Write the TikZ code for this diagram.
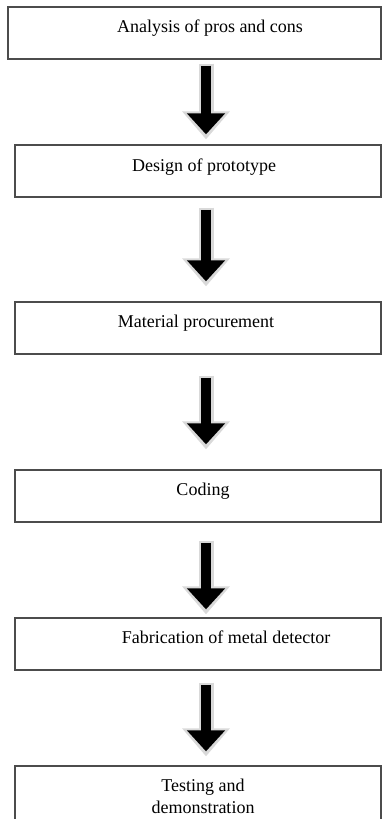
\documentclass[tikz,border=0pt]{standalone}
\usepackage{fontspec}
\setmainfont{Liberation Serif}
\usetikzlibrary{arrows.meta}

\tikzset{
	stepbox/.style={draw=black!70, line width=1.3pt, minimum height=52pt, inner sep=0pt},
	steptext/.style={font=\fontsize{18}{22}\selectfont, align=center, anchor=base},
	boltgray/.style={draw=black!15, line width=15pt, -{Triangle[width=46pt,length=28pt]}},
	boltblack/.style={draw=black, line width=10pt, -{Triangle[width=37pt,length=21pt]}}
}

\begin{document}
\begin{tikzpicture}[x=1pt,y=-1pt]
	\useasboundingbox (0,0) rectangle (383,819);
	\coordinate (ax) at (206,0);

	\foreach \n/\x/\y/\w/\h/\dx/\dy/\txt in {
		b1/194.5/33/373/52/15.5/-26/{Analysis of pros and cons},
		b2/198/171/366/52/6/-27/{Design of prototype},
		b3/198/328/366/52/-2/-26/{Material procurement},
		b4/198/496/366/52/5/-26/{Coding},
		b5/198/644/366/52/28/-26/{Fabrication of metal detector},
		b6/198/801/366/70/5/-48/{Testing and\\demonstration}} {
		\node[stepbox, minimum width=\w pt, minimum height=\h pt,
			label={[steptext, xshift=\dx pt, yshift=\dy pt]north:\txt}] (\n) at (\x,\y) {};
		}

	\foreach \a/\b/\s/\e in {b1/b2/4/5, b2/b3/10/15, b3/b4/21/20, b4/b5/18/3, b5/b6/12/9} {
		\pgfmathsetmacro{\ss}{\s + 2};
		\pgfmathsetmacro{\ee}{\e + 5};
		\draw[boltgray, shorten <=\s pt, shorten >=\e pt] (\a.south -| ax) -- (\b.north -| ax);
		\draw[boltblack, shorten <=\ss pt, shorten >=\ee pt] (\a.south -| ax) -- (\b.north -| ax);
		}
\end{tikzpicture}
\end{document}
